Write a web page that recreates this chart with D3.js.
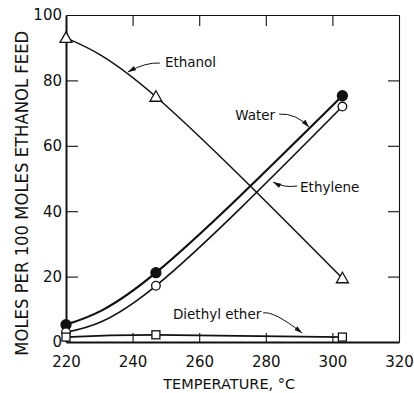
<!DOCTYPE html>
<html>
<head>
<meta charset="utf-8">
<script src="https://cdn.jsdelivr.net/npm/d3@7"></script>
<style>
  html, body { margin: 0; padding: 0; background: #fff; }
  svg { display: block; }
  text { font-family: 'DejaVu Sans', sans-serif; fill: #111; }
</style>
</head>
<body>
<div id="chart"></div>
<script>
// values
const temps = [220, 247, 303];
const ethanol = [93, 75, 19.5];
const water = [5.3, 21.2, 75.3];
const ethylene = [3, 17.2, 72];
const ether = [1.5, 2.2, 1.5];

const xTicks = [220, 240, 260, 280, 300, 320];
const yTicks = [0, 20, 40, 60, 80, 100];

// curve labels (data coords) and their leader lines: start, bend, arrow tip
const labelNames = ['Ethanol', 'Water', 'Ethylene', 'Diethyl ether'];
const labelPos = [[249.7, 84.1, 'start'], [282.8, 67.9, 'end'], [290.3, 45.9, 'start'], [252.1, 7.0, 'start']];
const leaders = [
  [[248.2, 85.3], [244.0, 85.6], [238.6, 82.6]],
  [[284.0, 69.7], [289.1, 70.0], [293.0, 65.7]],
  [[289.4, 47.7], [285.5, 47.1], [282.2, 48.9]],
  [[279.2, 8.9], [282.5, 9.5], [290.9, 2.75]],
];

const width = 414;
const height = 393;
const margin = {top: 15, right: 15, bottom: 51, left: 66};

const svg = d3.select('#chart')
    .append('svg')
    .attr('width', width)
    .attr('height', height);

const x = d3.scaleLinear()
    .domain([220, 320])
    .range([margin.left, width - margin.right]);
const y = d3.scaleLinear()
    .domain([0, 100])
    .range([height - margin.bottom, margin.top]);

const ink = '#111';

svg.append('defs').append('marker')
    .attr('id', 'arrow')
    .attr('markerUnits', 'userSpaceOnUse')
    .attr('viewBox', '0 -3 8 6')
    .attr('refX', 8)
    .attr('refY', 0)
    .attr('markerWidth', 8)
    .attr('markerHeight', 6)
    .attr('orient', 'auto')
    .append('path')
    .attr('d', 'M0,-2.4L8,0L0,2.4Z')
    .attr('fill', ink);

// frame with inward ticks on all four sides
const styleAxis = (g, w) => {
  g.select('.domain').attr('stroke', ink).attr('stroke-width', w);
  g.selectAll('.tick line').attr('stroke', ink).attr('stroke-width', 1.1);
  g.selectAll('.tick text').attr('font-size', 15).attr('fill', ink)
      .attr('font-family', 'DejaVu Sans, sans-serif');
};

svg.append('g')
    .attr('transform', `translate(0,${y(100)})`)
    .call(d3.axisTop(x).tickValues(xTicks.slice(1, -1)).tickSizeInner(-11).tickSizeOuter(0).tickFormat(''))
    .call((g) => styleAxis(g, 1.1));
svg.append('g')
    .attr('transform', `translate(${x(320)},0)`)
    .call(d3.axisRight(y).tickValues(yTicks.slice(1, -1)).tickSizeInner(-11).tickSizeOuter(0).tickFormat(''))
    .call((g) => styleAxis(g, 1.1));
svg.append('g')
    .attr('transform', `translate(0,${y(0)})`)
    .call(d3.axisBottom(x).tickValues(xTicks).tickSizeInner(-9).tickSizeOuter(0).tickPadding(14))
    .call((g) => styleAxis(g, 2))
    .call((g) => g.selectAll('.tick').filter((d) => d === 220 || d === 320).select('line').remove());
svg.append('g')
    .attr('transform', `translate(${x(220)},0)`)
    .call(d3.axisLeft(y).tickValues(yTicks).tickSizeInner(-12).tickSizeOuter(0).tickPadding(4))
    .call((g) => styleAxis(g, 2))
    .call((g) => g.selectAll('.tick').filter((d) => d === 0 || d === 100).select('line').remove());

// axis titles
svg.append('text')
    .attr('x', x(269))
    .attr('y', 389)
    .attr('text-anchor', 'middle')
    .attr('font-size', 14.5)
    .text('TEMPERATURE, °C');

svg.append('text')
    .attr('transform', `translate(28,${y(45.5)}) rotate(-90)`)
    .attr('text-anchor', 'middle')
    .attr('font-family', 'DejaVu Sans Condensed, DejaVu Sans, sans-serif')
    .attr('font-size', 17.5)
    .attr('textLength', 325)
    .attr('lengthAdjust', 'spacingAndGlyphs')
    .text('MOLES PER 100 MOLES ETHANOL FEED');

// curves
const line = d3.line()
    .x((d) => x(d[0]))
    .y((d) => y(d[1]))
    .curve(d3.curveNatural);

const series = [
  {values: ethanol, w: 1.5, mark: 'triangle'},
  {values: water, w: 2.2, mark: 'dot'},
  {values: ethylene, w: 1.6, mark: 'circle'},
  {values: ether, w: 1.8, mark: 'square'},
];

series.forEach((s) => {
  const pts = temps.map((t, i) => [t, s.values[i]]);
  svg.append('path')
      .attr('d', line(pts))
      .attr('fill', 'none')
      .attr('stroke', ink)
      .attr('stroke-width', s.w);

  const g = svg.append('g');
  pts.forEach((p) => {
    const cx = x(p[0]);
    const cy = y(p[1]);
    if (s.mark === 'triangle') {
      g.append('path')
          .attr('d', `M${cx},${cy - 6}L${cx + 6},${cy + 4.5}L${cx - 6},${cy + 4.5}Z`)
          .attr('fill', '#fff').attr('stroke', ink).attr('stroke-width', 1.3);
    } else if (s.mark === 'square') {
      g.append('rect')
          .attr('x', cx - 4).attr('y', cy - 4)
          .attr('width', 8).attr('height', 8)
          .attr('fill', '#fff').attr('stroke', ink).attr('stroke-width', 1.3);
    } else {
      g.append('circle')
          .attr('cx', cx).attr('cy', cy)
          .attr('r', s.mark === 'dot' ? 5 : 4.3)
          .attr('fill', s.mark === 'dot' ? ink : '#fff')
          .attr('stroke', ink).attr('stroke-width', 1.3);
    }
  });
});

// labels with leader arrows
labelNames.forEach((name, i) => {
  const [t, v, anchor] = labelPos[i];
  svg.append('text')
      .attr('x', x(t))
      .attr('y', y(v))
      .attr('text-anchor', anchor)
      .attr('font-size', 13.5)
      .text(name);

  const [a, c, b] = leaders[i];
  svg.append('path')
      .attr('d', `M${x(a[0])},${y(a[1])}Q${x(c[0])},${y(c[1])} ${x(b[0])},${y(b[1])}`)
      .attr('fill', 'none')
      .attr('stroke', ink)
      .attr('stroke-width', 1)
      .attr('marker-end', 'url(#arrow)');
});
</script>
</body>
</html>
